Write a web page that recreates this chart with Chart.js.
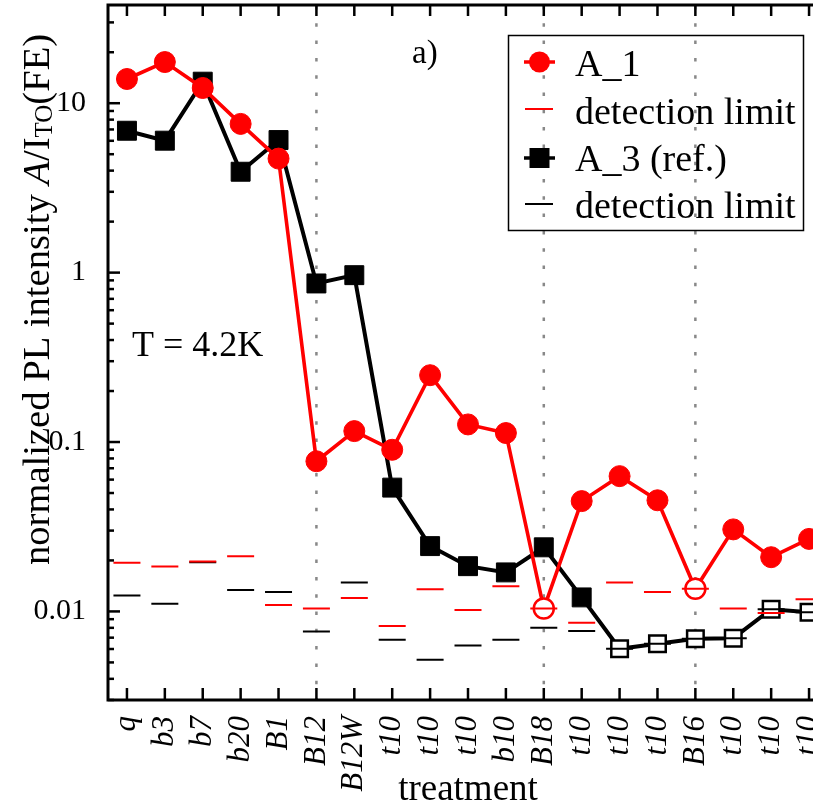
<!DOCTYPE html>
<html><head><meta charset="utf-8">
<script src="https://cdn.jsdelivr.net/npm/chart.js@4/dist/chart.umd.min.js"></script>
<style>
html,body{margin:0;padding:0;overflow:hidden;background:#fff;width:813px;height:807px}
#wrap{position:absolute;left:0;top:0;width:830px;height:807px}
</style>
</head><body><div id="wrap"><canvas id="c" width="830" height="807" style="width:830px;height:807px"></canvas></div>
<script>
// ---- data ----
const categories = ['q','b3','b7','b20','B1','B12','B12W','t10','t10','t10','b10','B18','t10','t10','t10','B16','t10','t10','t10'];
const a1Values = [13.9, 17.5, 12.3, 7.55, 4.71, 0.077, 0.116, 0.090, 0.248, 0.127, 0.113, 0.0104, 0.0448, 0.0629, 0.0453, 0.0136, 0.0305, 0.0209, 0.0268];
const a1AtLimit = [false,false,false,false,false,false,false,false,false,false,false,true,false,false,false,true,false,false,false];
const a3Values = [6.88, 6.01, 13.4, 3.94, 6.06, 0.863, 0.966, 0.0538, 0.0243, 0.0185, 0.0170, 0.0239, 0.0121, 0.00602, 0.00644, 0.00690, 0.00695, 0.0103, 0.0099];
const a3AtLimit = [false,false,false,false,false,false,false,false,false,false,false,false,false,true,true,true,true,true,true];
const a1Limit = [0.0194, 0.0184, 0.0197, 0.0212, 0.0109, 0.0104, 0.0120, 0.00819, 0.0135, 0.0102, 0.0141, 0.0104, 0.00857, 0.0148, 0.0130, 0.0136, 0.0104, 0.0098, 0.0118];
const a3Limit = [0.0124, 0.0111, 0.0195, 0.0134, 0.0130, 0.00762, 0.0148, 0.00681, 0.00519, 0.00630, 0.00681, 0.00801, 0.00766, 0.00602, 0.00644, 0.00690, 0.00695, 0.0103, 0.0099];
const dividerIndices = [5, 11, 15];
const yTickValues = [0.003,0.004,0.005,0.006,0.007,0.008,0.009,
  0.01,0.02,0.03,0.04,0.05,0.06,0.07,0.08,0.09,
  0.1,0.2,0.3,0.4,0.5,0.6,0.7,0.8,0.9,
  1,2,3,4,5,6,7,8,9,10,20,30];
const yMajorTicks = [0.01, 0.1, 1, 10];
const yMajorLabels = ['0.01', '0.1', '1', '10'];
const seriesNames = ['A_1', 'detection limit', 'A_3 (ref.)', 'detection limit'];

const SERIF = 'Liberation Serif';
const RED = '#ff0000';

const decor = {
  id: 'decor',
  beforeDatasetsDraw(chart) {
    const {ctx, chartArea: a, scales: {x}} = chart;
    ctx.save();
    ctx.strokeStyle = '#888888';
    ctx.lineWidth = 2.5;
    ctx.setLineDash([3.5, 13.8]);
    dividerIndices.forEach(i => {
      const px = x.getPixelForValue(i);
      ctx.beginPath();
      ctx.moveTo(px, a.top + 1);
      ctx.lineTo(px, a.bottom);
      ctx.stroke();
    });
    ctx.restore();
  },
  afterDraw(chart) {
    const {ctx, chartArea: a, scales: {x, y}} = chart;
    ctx.save();
    ctx.strokeStyle = '#000';
    ctx.lineCap = 'butt';
    // ticks
    ctx.lineWidth = 2.5;
    categories.forEach((c, i) => {
      const px = x.getPixelForValue(i);
      ctx.beginPath();
      ctx.moveTo(px, a.bottom); ctx.lineTo(px, a.bottom - 12);
      ctx.moveTo(px, a.top); ctx.lineTo(px, a.top + 11);
      ctx.stroke();
    });
    yTickValues.forEach(v => {
      const py = y.getPixelForValue(v);
      const len = yMajorTicks.includes(v) ? 12 : 6;
      ctx.beginPath();
      ctx.moveTo(a.left, py); ctx.lineTo(a.left + len, py);
      ctx.stroke();
    });
    // frame
    ctx.lineWidth = 3;
    ctx.beginPath();
    ctx.moveTo(a.left, a.top - 1.5); ctx.lineTo(a.left, a.bottom + 1.5);
    ctx.moveTo(a.left - 1.5, a.bottom); ctx.lineTo(a.right + 2, a.bottom);
    ctx.moveTo(a.left - 1.5, a.top); ctx.lineTo(a.right + 2, a.top);
    ctx.stroke();

    // texts
    ctx.fillStyle = '#000';
    ctx.textBaseline = 'alphabetic';
    ctx.textAlign = 'left';
    ctx.font = `33px "${SERIF}"`;
    ctx.fillText('a)', 412, 63);
    ctx.font = `36px "${SERIF}"`;
    ctx.fillText('T = 4.2K', 132, 356);

    // x title
    ctx.textAlign = 'center';
    ctx.font = `37px "${SERIF}"`;
    ctx.fillText('treatment', (a.left + a.right) / 2, 800);

    // y title with subscript
    ctx.save();
    ctx.translate(49, 565);
    ctx.rotate(-Math.PI / 2);
    ctx.textAlign = 'left';
    const parts = [
      {t: 'normalized PL intensity ', f: `38.6px "${SERIF}"`, dy: 0},
      {t: 'A', f: `italic 38.6px "${SERIF}"`, dy: 0},
      {t: '/I', f: `38.6px "${SERIF}"`, dy: 0},
      {t: 'TO', f: `25px "${SERIF}"`, dy: 3},
      {t: '(FE)', f: `38.6px "${SERIF}"`, dy: 0}
    ];
    let u = 0;
    parts.forEach(p => {
      ctx.font = p.f;
      ctx.fillText(p.t, u, p.dy);
      u += ctx.measureText(p.t).width;
    });
    ctx.restore();

    // legend
    ctx.lineWidth = 1.5;
    ctx.strokeStyle = '#000';
    ctx.strokeRect(508.5, 35.5, 295, 195);
    const rows = [
      {y: 62, ty: 76, kind: 'circle', color: RED},
      {y: 109, ty: 124, kind: 'dl', color: RED},
      {y: 158, ty: 171, kind: 'square', color: '#000'},
      {y: 204, ty: 218, kind: 'dl', color: '#000'}
    ];
    rows.forEach((r, i) => {
      ctx.strokeStyle = r.color;
      ctx.fillStyle = r.color;
      if (r.kind === 'dl') {
        ctx.lineWidth = 2;
        ctx.beginPath(); ctx.moveTo(525, r.y); ctx.lineTo(553, r.y); ctx.stroke();
      } else {
        ctx.lineWidth = 3.5;
        ctx.beginPath(); ctx.moveTo(524, r.y); ctx.lineTo(555, r.y); ctx.stroke();
        ctx.beginPath();
        if (r.kind === 'circle') ctx.arc(539.5, r.y, 10.5, 0, Math.PI * 2);
        else ctx.rect(529.5, r.y - 10, 20, 20);
        ctx.fill();
      }
      ctx.fillStyle = '#000';
      ctx.textAlign = 'left';
      ctx.font = `38px "${SERIF}"`;
      ctx.fillText(seriesNames[i], 575, r.ty);
    });
    ctx.restore();
  }
};

new Chart(document.getElementById('c'), {
  type: 'line',
  data: {
    labels: categories,
    datasets: [
      {
        label: seriesNames[0], data: a1Values, order: 3,
        borderColor: RED, borderWidth: 3.6, tension: 0, fill: false,
        pointStyle: 'circle',
        pointRadius: a1AtLimit.map(o => o ? 10 : 10.5),
        pointBorderWidth: a1AtLimit.map(o => o ? 2.5 : 1),
        pointBorderColor: RED,
        pointBackgroundColor: a1AtLimit.map(o => o ? '#ffffff' : RED)
      },
      {
        label: seriesNames[1], data: a1Limit, order: 1, showLine: false,
        pointStyle: 'line', pointRadius: 13.5, pointBorderWidth: 2,
        pointBorderColor: RED, pointBackgroundColor: RED, borderColor: RED
      },
      {
        label: seriesNames[2], data: a3Values, order: 4,
        borderColor: '#000', borderWidth: 4, tension: 0, fill: false,
        pointStyle: 'rect',
        pointRadius: a3AtLimit.map(o => o ? 11.7 : 13.4),
        pointBorderWidth: a3AtLimit.map(o => o ? 2.5 : 1),
        pointBorderColor: '#000',
        pointBackgroundColor: a3AtLimit.map(o => o ? '#ffffff' : '#000')
      },
      {
        label: seriesNames[3], data: a3Limit, order: 2, showLine: false,
        pointStyle: 'line', pointRadius: 13.5, pointBorderWidth: 2,
        pointBorderColor: '#000', pointBackgroundColor: '#000', borderColor: '#000'
      }
    ]
  },
  options: {
    responsive: false,
    animation: false,
    events: [],
    layout: {autoPadding: false, padding: {left: 0, top: 5, right: 2, bottom: 0}},
    plugins: {legend: {display: false}, tooltip: {enabled: false}, title: {display: false}},
    scales: {
      x: {
        type: 'category', offset: true,
        afterFit: s => { s.height = 107; s.paddingLeft = 0; s.paddingRight = 0; s.paddingTop = 0; s.paddingBottom = 0; },
        grid: {display: false}, border: {display: false},
        ticks: {autoSkip: false, maxRotation: 90, minRotation: 90, padding: 8, color: '#000',
          font: {family: SERIF, size: 31, style: 'italic'}}
      },
      y: {
        type: 'logarithmic', min: 0.003, max: 38,
        afterFit: s => { s.width = 108; s.paddingLeft = 0; s.paddingRight = 0; s.paddingTop = 0; s.paddingBottom = 0; },
        afterBuildTicks: s => { s.ticks = yTickValues.map(v => ({value: v})); },
        grid: {display: false}, border: {display: false},
        ticks: {autoSkip: false, padding: 14, color: '#000',
          font: {family: SERIF, size: 30},
          callback: v => { const i = yMajorTicks.indexOf(v); return i >= 0 ? yMajorLabels[i] : ''; }}
      }
    }
  },
  plugins: [decor]
});
</script></body></html>
